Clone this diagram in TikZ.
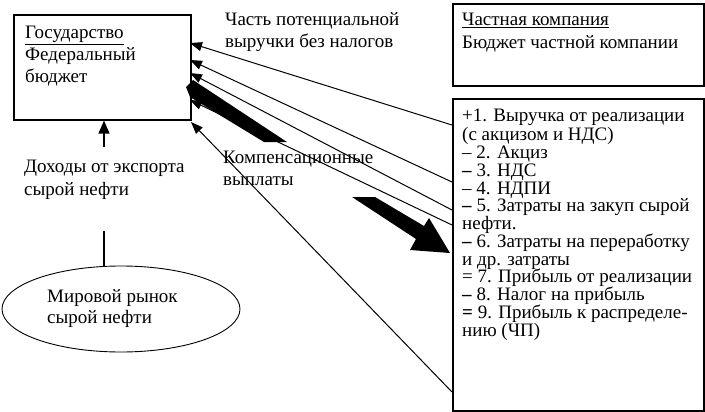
\documentclass[tikz,border=0pt]{standalone}
\usepackage{fontspec}
\setmainfont{Liberation Serif}
\usetikzlibrary{arrows.meta,shapes.geometric}
\tikzset{
  box/.style={draw, line width=1.6pt, rectangle, inner sep=0pt, anchor=north west},
  txt/.style={anchor=north west, inner sep=0pt, align=left, font=\fontsize{19}{22}\selectfont},
  listtxt/.style={anchor=north west, inner sep=0pt, align=left, font=\fontsize{19}{17.75}\selectfont},
  conn/.style={line width=1pt, -{Triangle[length=12pt,width=9pt]}},
  upconn/.style={line width=1.3pt, -{Triangle[length=13pt,width=11pt]}},
  thick arrow/.style={fill=black}
}
\begin{document}
\begin{tikzpicture}[x=1pt,y=-1pt]
\useasboundingbox (0,0) rectangle (705,412);
% boxes
\node[box, minimum width=177pt, minimum height=105pt] (gov) at (13,14) {};
\node[box, minimum width=251pt, minimum height=82pt] (priv) at (452,3) {};
\node[box, minimum width=251pt, minimum height=312pt] (calc) at (452,98) {};
\node[draw, ellipse, line width=0.9pt, minimum width=238pt, minimum height=86pt, inner sep=0pt] (mkt) at (121,309) {};
% texts
\node[txt] (govtxt) at (25,23.1) {\strut\underline{Государство}\\Федеральный\\бюджет};
\node[txt, font=\fontsize{19}{23}\selectfont] (privtxt) at (462,9.4) {\strut\underline{Частная компания}\\Бюджет частной компании};
\node[txt] (parttxt) at (225,10.1) {\strut Часть потенциальной\\выручки без налогов};
\node[txt, font=\fontsize{19}{23}\selectfont] (exptxt) at (24,156.4) {\strut Доходы от экспорта\\сырой нефти};
\node[txt] (comptxt) at (223,148.1) {\strut Компенсационные\\выплаты};
\node[txt, font=\fontsize{19}{21}\selectfont] (mkttxt) at (47,287.8) {\strut Мировой рынок\\сырой нефти};
\node[listtxt] (calctxt) at (462,108.6) {\strut +1. Выручка от реализации\\
(с акцизом и НДС)\\
– 2. Акциз\\
\textbf{–} 3. НДС\\
– 4. НДПИ\\
\textbf{–} 5. Затраты на закуп сырой\\
нефти.\\
\textbf{–} 6. Затраты на переработку\\
и др. затраты\\
= 7. Прибыль от реализации\\
\textbf{–} 8. Налог на прибыль\\
\textbf{=} 9. Прибыль к распределе-\\
нию (ЧП)};
% connector end points
\coordinate (g1) at (190,43);
\coordinate (g2) at (190,60);
\coordinate (g3) at (190,73);
\coordinate (g4) at (190,100);
\coordinate (g5) at (191,122);
\coordinate (c1) at (452,125);
\coordinate (c2) at (452,182);
\coordinate (c3) at (452,210);
\coordinate (c4) at (452,225);
\coordinate (c5) at (452,392);
\draw[conn] (c1) -- (g1);
\draw[conn] (c2) -- (g2);
\draw[conn] (c3) -- (g3);
\draw[conn] (c4) -- (g4);
\draw[conn] (c5) -- (g5);
% thick block arrows
\fill[thick arrow] (186,87) -- (193,80) -- (287,142) -- (264,142) -- (190,97) -- cycle;
\fill[thick arrow] (352,197) -- (375,197) -- (424,226) -- (429,218) -- (450,253) -- (410,250) -- (416,239) -- cycle;
% world market
\coordinate (m1) at (104,231);
\draw[line width=1.3pt] (m1) -- (m1 |- mkt.north);
\coordinate (d1) at (104,147);
\draw[upconn] (d1) -- (d1 |- gov.south);
\end{tikzpicture}
\end{document}
